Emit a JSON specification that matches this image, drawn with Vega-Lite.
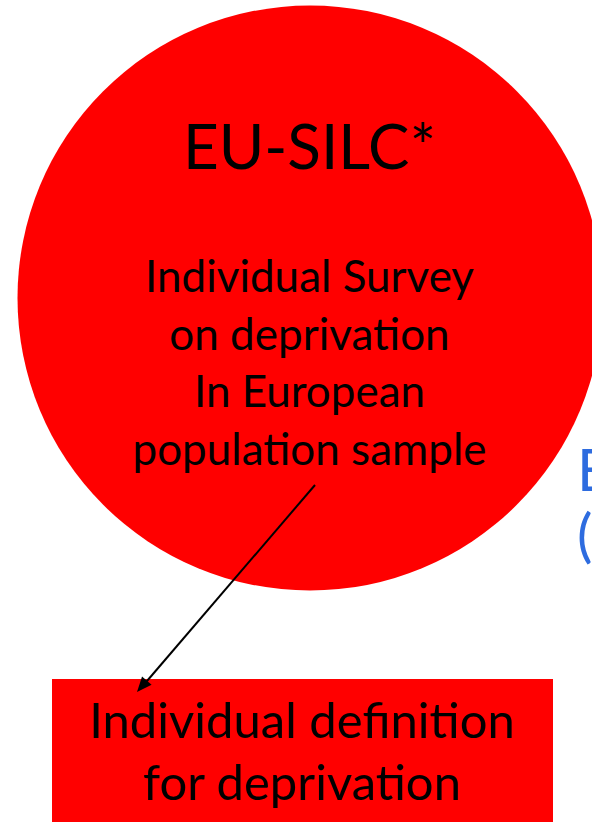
{
  "$schema": "https://vega.github.io/schema/vega-lite/v6.json",
  "width": 592,
  "height": 822,
  "autosize": {"type": "none"},
  "padding": 0,
  "background": "white",
  "config": {"view": {"stroke": null}},
  "datasets": {
    "circle": [{"name": "EU-SILC", "cx": 310, "cy": 298}],
    "box": [{"name": "definition", "x1": 52, "x2": 553, "y1": 679, "y2": 830}],
    "arrow": [{"x1": 315, "y1": 485, "x2": 141, "y2": 688}],
    "head": [{"x": 137, "y": 692}],
    "title": [{"t": "EU-SILC*", "x": 309.5, "y": 169}],
    "body": [
      {"t": "Individual Survey", "x": 309.5, "y": 292},
      {"t": "on deprivation", "x": 309.5, "y": 350},
      {"t": "In European", "x": 309.5, "y": 407},
      {"t": "population sample", "x": 309.5, "y": 465}
    ],
    "boxtext": [
      {"t": "Individual definition", "x": 302, "y": 738},
      {"t": "for deprivation", "x": 302, "y": 800}
    ],
    "blue": [
      {"t": "E", "x": 577, "y": 491},
      {"t": "(", "x": 577, "y": 556}
    ]
  },
  "layer": [
    {
      "data": {"name": "circle"},
      "mark": {"type": "point", "shape": "circle", "filled": true, "opacity": 1, "color": "#FF0000", "strokeWidth": 0, "size": 342225},
      "encoding": {
        "x": {"field": "cx", "type": "quantitative", "scale": {"domain": [0, 592], "nice": false, "zero": false}, "axis": null},
        "y": {"field": "cy", "type": "quantitative", "scale": {"domain": [0, 822], "reverse": true, "nice": false, "zero": false}, "axis": null}
      }
    },
    {
      "data": {"name": "box"},
      "mark": {"type": "rect", "color": "#FF0000"},
      "encoding": {
        "x": {"field": "x1", "type": "quantitative"},
        "x2": {"field": "x2"},
        "y": {"field": "y1", "type": "quantitative"},
        "y2": {"field": "y2"}
      }
    },
    {
      "data": {"name": "arrow"},
      "mark": {"type": "rule", "color": "black", "strokeWidth": 2},
      "encoding": {
        "x": {"field": "x1", "type": "quantitative"},
        "x2": {"field": "x2"},
        "y": {"field": "y1", "type": "quantitative"},
        "y2": {"field": "y2"}
      }
    },
    {
      "data": {"name": "head"},
      "mark": {"type": "point", "shape": "M0,0L-0.42,1L0.42,1Z", "filled": true, "opacity": 1, "color": "black", "strokeWidth": 0, "size": 900, "angle": 220.8},
      "encoding": {
        "x": {"field": "x", "type": "quantitative"},
        "y": {"field": "y", "type": "quantitative"}
      }
    },
    {
      "data": {"name": "title"},
      "mark": {"type": "text", "font": "Lato", "fontSize": 62, "align": "center", "baseline": "alphabetic", "color": "black"},
      "encoding": {
        "x": {"field": "x", "type": "quantitative"},
        "y": {"field": "y", "type": "quantitative"},
        "text": {"field": "t"}
      }
    },
    {
      "data": {"name": "body"},
      "mark": {"type": "text", "font": "Lato", "fontSize": 44, "align": "center", "baseline": "alphabetic", "color": "black"},
      "encoding": {
        "x": {"field": "x", "type": "quantitative"},
        "y": {"field": "y", "type": "quantitative"},
        "text": {"field": "t"}
      }
    },
    {
      "data": {"name": "boxtext"},
      "mark": {"type": "text", "font": "Lato", "fontSize": 49, "align": "center", "baseline": "alphabetic", "color": "black"},
      "encoding": {
        "x": {"field": "x", "type": "quantitative"},
        "y": {"field": "y", "type": "quantitative"},
        "text": {"field": "t"}
      }
    },
    {
      "data": {"name": "blue"},
      "mark": {"type": "text", "font": "Lato", "fontSize": 58, "align": "left", "baseline": "alphabetic", "color": "#2E6CDF"},
      "encoding": {
        "x": {"field": "x", "type": "quantitative"},
        "y": {"field": "y", "type": "quantitative"},
        "text": {"field": "t"}
      }
    }
  ]
}
